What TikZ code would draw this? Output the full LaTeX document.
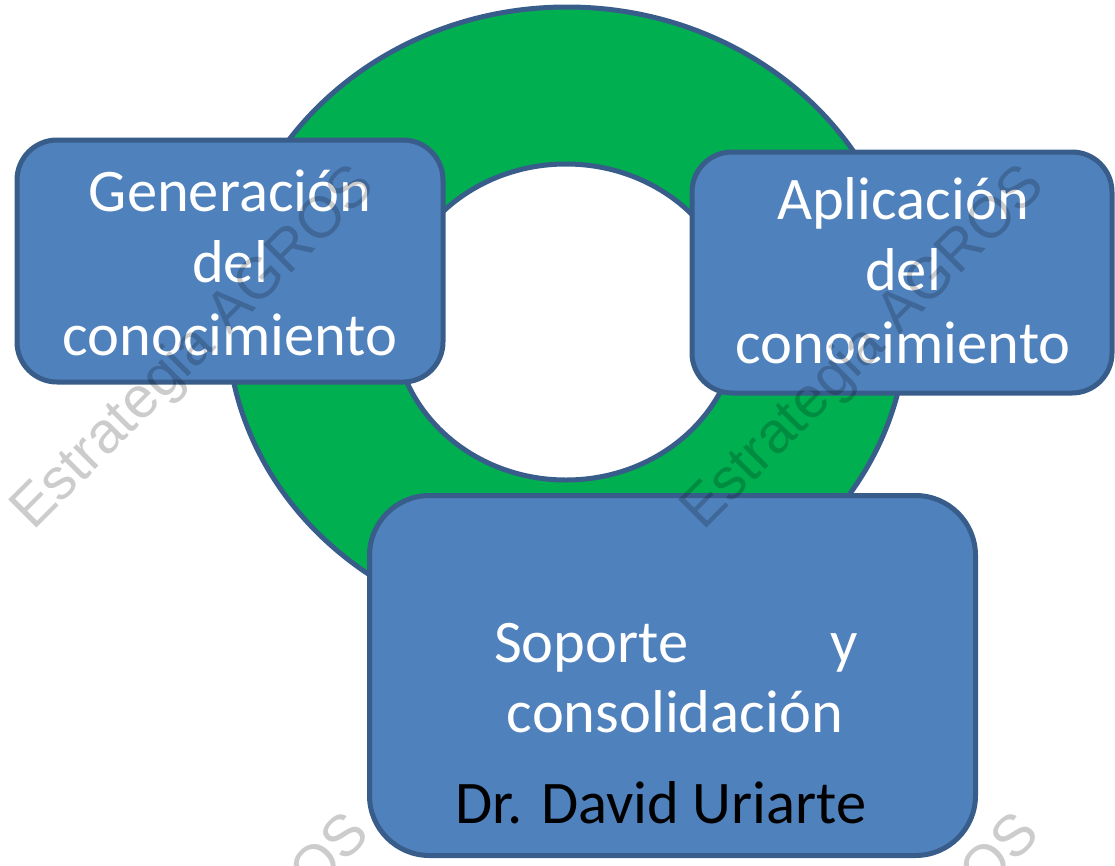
\documentclass[tikz,border=0pt]{standalone}
\usepackage{fontspec}
\setmainfont{Carlito}
\newfontfamily\wmfont{Liberation Sans}
\definecolor{ringgreen}{HTML}{00B050}
\definecolor{boxblue}{HTML}{4F81BD}
\definecolor{edgeblue}{HTML}{385D8A}
\begin{document}
\begin{tikzpicture}[x=1pt,y=-1pt,
  card/.style={draw=edgeblue, fill=boxblue, line width=5pt, rectangle, inner sep=0pt},
  lbl/.style={text=white, font=\fontsize{60.5}{72}\selectfont, anchor=base, inner sep=0pt},
  wm/.style={font=\wmfont\fontsize{58}{70}\selectfont, text=black, text opacity=0.2, anchor=base west, rotate=45, inner sep=0pt}]
\useasboundingbox (0,0) rectangle (1115,865);
\clip (0,0) rectangle (1115,865);
% ring
\path[fill=ringgreen, even odd rule] (567,320) ellipse [x radius=340pt, y radius=313pt]
  (566,322) ellipse [x radius=172pt, y radius=158pt];
\draw[edgeblue, line width=5pt] (567,320) ellipse [x radius=340pt, y radius=313pt];
\draw[edgeblue, line width=5pt] (566,322) ellipse [x radius=172pt, y radius=158pt];
% boxes
\node[card, rounded corners=40pt, minimum width=426pt, minimum height=242pt] (gen) at (230,261) {};
\node[card, rounded corners=40pt, minimum width=420pt, minimum height=241pt] (app) at (902,272.5) {};
\node[card, rounded corners=60pt, minimum width=606pt, minimum height=360pt] (sop) at (672.5,675.5) {};
% texts
\node[lbl] (gen1) at (230,211) {Generación};
\node[lbl] (gen2) at (230,282) {del};
\node[lbl] (gen3) at (230,355) {conocimiento};
\node[lbl] (app1) at (903,219) {Aplicación};
\node[lbl] (app2) at (903,290) {del};
\node[lbl] (app3) at (903,363) {conocimiento};
\node[lbl] (sop1) at (676,662) {\makebox[364pt]{Soporte\hfill y}};
\node[lbl] (sop2) at (675,732) {consolidación};
\node[lbl, text=black] (name) at (661,823) {Dr. David Uriarte};
% watermarks
\node[wm] (wm1) at (33,532) {Estrategia AGROS};
\node[wm] (wm2) at (703,532) {Estrategia AGROS};
\node[wm] (wm3) at (28,1180) {Estrategia AGROS};
\node[wm] (wm4) at (698,1180) {Estrategia AGROS};
\end{tikzpicture}
\end{document}
